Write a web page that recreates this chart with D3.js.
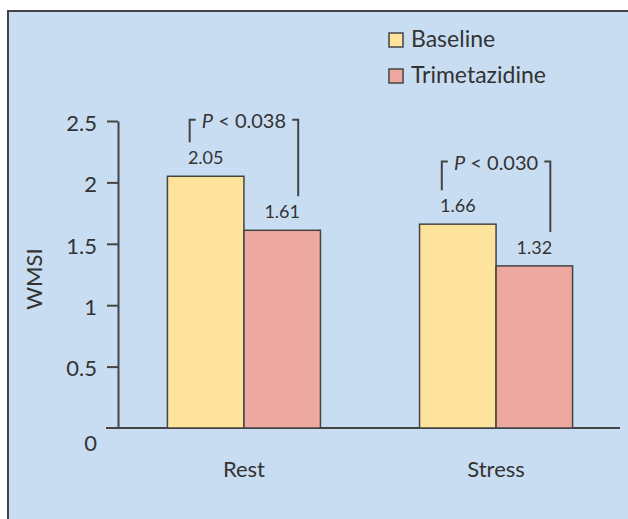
<!DOCTYPE html>
<html>
<head>
<meta charset="utf-8">
<script src="https://cdn.jsdelivr.net/npm/d3@7"></script>
<style>
  body { margin: 0; background: #fff; }
  svg text { font-family: Lato, "Open Sans", sans-serif; fill: #333; }
</style>
</head>
<body>
<div id="chart"></div>
<script>
// data
var categories = ["Rest", "Stress"];
var seriesNames = ["Baseline", "Trimetazidine"];
var baselineValues = [2.05, 1.66];
var trimetazidineValues = [1.61, 1.32];
var pLabels = ["0.038", "0.030"];
var pLevels = [2.51, 2.17];
var yTicks = [0, 0.5, 1, 1.5, 2, 2.5];

var colors = ["#fee39c", "#eda99f"];

var W = 628, H = 519;

var svg = d3.select("#chart").append("svg")
  .attr("width", W)
  .attr("height", H);

// panel background
svg.append("rect")
  .attr("x", 8).attr("y", 11)
  .attr("width", W).attr("height", H)
  .attr("fill", "#c8ddf1");
svg.append("path")
  .attr("d", "M8," + H + "V11H" + W)
  .attr("fill", "none")
  .attr("stroke", "#444")
  .attr("stroke-width", 2);

// scales
var x0 = d3.scaleBand()
  .domain(categories)
  .range([118, 622])
  .paddingInner(0.393)
  .paddingOuter(0.196);

var x1 = d3.scaleBand()
  .domain(seriesNames)
  .range([0, x0.bandwidth()]);

var y = d3.scaleLinear()
  .domain([0, 2.5])
  .range([428, 121]);

// x axis line
svg.append("line")
  .attr("x1", 106).attr("x2", 620)
  .attr("y1", y(0)).attr("y2", y(0))
  .attr("stroke", "#444")
  .attr("stroke-width", 2);

// y axis
var yAxis = svg.append("g")
  .attr("transform", "translate(118,0)")
  .call(d3.axisLeft(y)
    .tickValues(yTicks)
    .tickSize(11)
    .tickSizeOuter(0)
    .tickPadding(10)
    .tickFormat(d => d));
yAxis.select(".domain").attr("stroke", "#444").attr("stroke-width", 2);
yAxis.selectAll(".tick line").attr("stroke", "#444").attr("stroke-width", 2);
yAxis.selectAll(".tick text")
  .style("font-size", "22px")
  .style("fill", "#333")
  .style("font-family", "Lato, sans-serif")
  .attr("dy", d => d === 0 ? "1.0em" : "0.42em");
yAxis.selectAll(".tick").filter(d => d === 0).select("line").remove();

// y label
svg.append("text")
  .attr("transform", "translate(42,279) rotate(-90)")
  .attr("text-anchor", "middle")
  .style("font-size", "22px")
  .text("WMSI");

// bars
var rows = categories.map((c, i) => ({
  cat: c,
  vals: [baselineValues[i], trimetazidineValues[i]],
  p: pLabels[i],
  level: pLevels[i]
}));

var groups = svg.selectAll(".grp")
  .data(rows)
  .enter().append("g")
  .attr("class", "grp")
  .attr("transform", d => "translate(" + x0(d.cat) + ",0)");

groups.selectAll("rect")
  .data(d => d.vals.map((v, j) => ({name: seriesNames[j], v: v, j: j})))
  .enter().append("rect")
  .attr("x", d => x1(d.name))
  .attr("y", d => y(d.v))
  .attr("width", x1.bandwidth())
  .attr("height", d => y(0) - y(d.v))
  .attr("fill", d => colors[d.j])
  .attr("stroke", "#444")
  .attr("stroke-width", 1.5);

groups.selectAll(".val")
  .data(d => d.vals.map((v, j) => ({name: seriesNames[j], v: v})))
  .enter().append("text")
  .attr("class", "val")
  .attr("x", d => x1(d.name) + x1.bandwidth() / 2)
  .attr("y", d => y(d.v) - 12)
  .attr("text-anchor", "middle")
  .style("font-size", "18px")
  .text(d => d.v.toFixed(2));

// significance brackets
groups.each(function(d) {
  var g = d3.select(this);
  var xl = x1(seriesNames[0]) + x1.bandwidth() / 2 - 16;
  var xr = x1(seriesNames[1]) + x1.bandwidth() / 2 + 16;
  var top = y(d.level);
  var bl = y(d.vals[0]) - 34;
  var br = y(d.vals[1]) - 34;
  g.append("path")
    .attr("d", "M" + xl + "," + bl + "V" + top + "H" + (xl + 6))
    .attr("fill", "none").attr("stroke", "#444").attr("stroke-width", 2);
  g.append("path")
    .attr("d", "M" + (xr - 6) + "," + top + "H" + xr + "V" + br)
    .attr("fill", "none").attr("stroke", "#444").attr("stroke-width", 2);
  var t = g.append("text")
    .attr("x", (xl + xr) / 2)
    .attr("y", top + 8)
    .attr("text-anchor", "middle")
    .style("font-size", "20px");
  t.append("tspan").style("font-style", "italic").text("P");
  t.append("tspan").text(" < " + d.p);
});

// category labels
svg.selectAll(".cat")
  .data(categories)
  .enter().append("text")
  .attr("class", "cat")
  .attr("x", d => x0(d) + x0.bandwidth() / 2)
  .attr("y", 477)
  .attr("text-anchor", "middle")
  .style("font-size", "22px")
  .text(d => d);

// legend
var legend = svg.selectAll(".leg")
  .data(seriesNames)
  .enter().append("g")
  .attr("class", "leg")
  .attr("transform", (d, i) => "translate(389," + (33 + i * 36) + ")");
legend.append("rect")
  .attr("width", 14).attr("height", 14)
  .attr("fill", (d, i) => colors[i])
  .attr("stroke", "#444")
  .attr("stroke-width", 1.5);
legend.append("text")
  .attr("x", 22)
  .attr("y", 14)
  .style("font-size", "23px")
  .text(d => d);
</script>
</body>
</html>
